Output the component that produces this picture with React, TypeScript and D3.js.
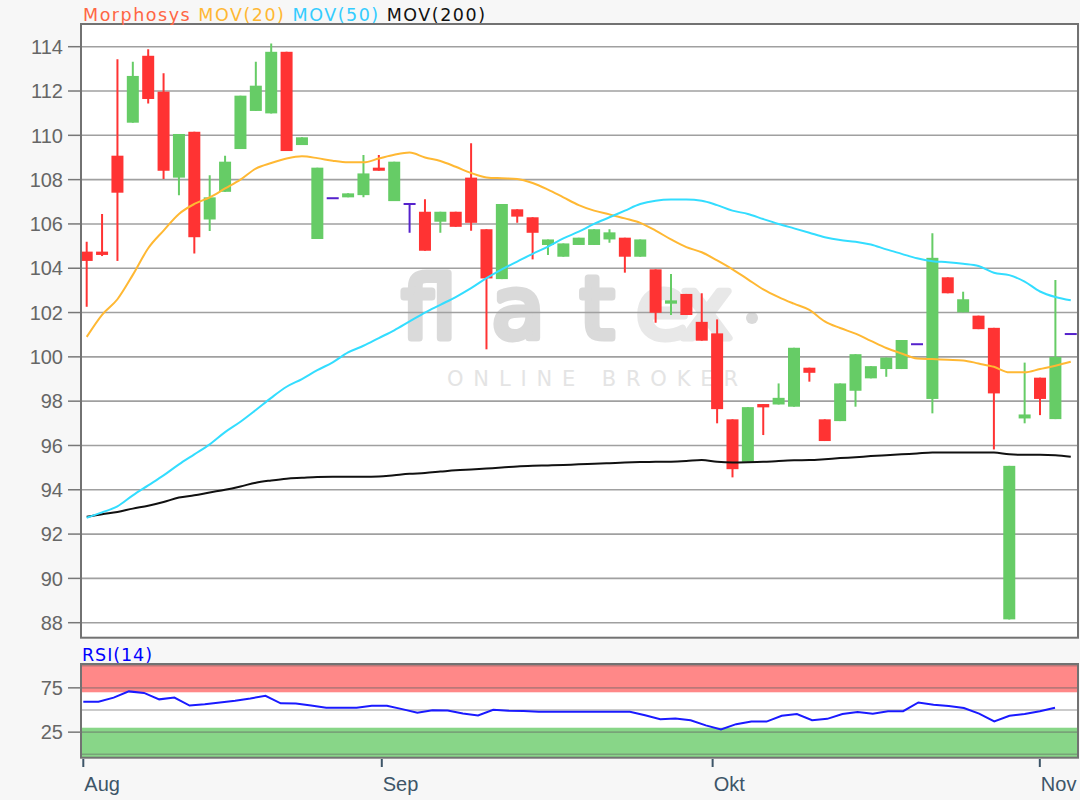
import React, { useEffect, useRef } from 'react';
import * as d3 from 'd3';

// daily candles, Aug - early Nov
const opens = [
  104.75, 104.75, 109.08, 110.57, 113.59, 111.97, 108.09, 110.16, 106.2, 107.45,
  109.38, 111.1, 110.99, 113.77, 109.56, 105.32, 107.16, 107.2, 107.3, 108.54,
  107.03, 106.9, 106.55, 106.1, 106.55, 108.09, 105.76, 103.51, 106.66, 106.3,
  105.05, 104.52, 105.05, 105.05, 105.3, 105.38, 104.52, 103.95, 102.4, 102.84,
  101.58, 101.06, 97.18, 95.26, 97.87, 97.85, 97.75, 99.51, 97.18, 97.1,
  98.47, 99.03, 99.45, 99.45, 100.57, 98.1, 103.59, 102.01, 101.86, 101.31,
  88.15, 97.22, 99.06, 97.19, 101.03
];
const highs = [
  105.2, 106.45, 113.43, 113.32, 113.88, 112.8, 110.06, 110.16, 108.2, 109.08,
  111.79, 113.32, 114.15, 113.77, 109.91, 108.54, 107.16, 107.38, 109.11, 109.11,
  108.81, 106.9, 107.11, 106.55, 106.55, 109.64, 105.76, 106.9, 106.66, 106.3,
  105.3, 105.12, 105.38, 105.76, 105.76, 105.38, 105.3, 103.95, 103.74, 102.84,
  102.87, 101.69, 97.18, 97.73, 97.87, 98.8, 100.41, 99.51, 97.18, 98.8,
  100.12, 99.58, 99.97, 100.76, 100.57, 105.58, 103.59, 102.94, 101.86, 101.31,
  95.08, 99.74, 99.06, 103.47, 101.03
];
const lows = [
  102.26, 104.55, 104.33, 110.57, 111.44, 108.03, 107.3, 104.67, 105.68, 107.45,
  109.38, 111.1, 110.99, 109.29, 109.56, 105.32, 107.16, 107.2, 107.2, 108.4,
  107.03, 105.6, 104.79, 105.6, 105.87, 105.69, 100.34, 103.51, 106.05, 104.4,
  104.6, 104.52, 105.05, 105.05, 105.15, 103.8, 104.52, 101.54, 101.89, 101.89,
  100.73, 97.0, 94.56, 95.26, 96.47, 97.85, 97.75, 98.88, 96.2, 97.1,
  97.75, 99.03, 99.1, 99.45, 100.57, 97.45, 102.87, 102.01, 101.25, 95.82,
  88.15, 97.0, 97.37, 97.19, 101.03
];
const closes = [
  104.33, 104.6, 107.41, 112.68, 111.64, 108.4, 110.06, 105.4, 107.2, 108.81,
  111.79, 112.24, 113.77, 109.29, 109.91, 108.54, 107.16, 107.38, 108.28, 108.4,
  108.81, 106.9, 104.79, 106.55, 105.87, 106.05, 103.54, 106.9, 106.33, 105.6,
  105.3, 105.12, 105.38, 105.76, 105.62, 104.52, 105.3, 101.99, 102.55, 101.89,
  100.73, 97.64, 94.93, 97.73, 97.72, 98.15, 100.41, 99.28, 96.2, 98.8,
  100.12, 99.58, 99.97, 100.76, 100.57, 104.47, 102.87, 102.6, 101.25, 98.35,
  95.08, 97.4, 98.1, 100.0, 101.03
];

const mov20 = [
  100.9, 101.9, 102.6, 103.7, 104.9, 105.7, 106.45, 106.9, 107.2, 107.6,
  108.0, 108.5, 108.75, 108.95, 109.05, 108.97, 108.85, 108.78, 108.78, 108.95,
  109.12, 109.22, 109.0, 108.84, 108.58, 108.3, 108.1, 108.06, 108.03, 107.85,
  107.55, 107.2, 106.85, 106.6, 106.43, 106.25, 106.05, 105.7, 105.3, 104.95,
  104.72, 104.35, 103.95, 103.5, 103.05, 102.7, 102.4, 102.12, 101.6, 101.3,
  101.05, 100.72, 100.4, 100.15, 99.93, 99.9, 99.87, 99.84, 99.7, 99.55,
  99.3, 99.3, 99.45, 99.6, 99.78
];
const mov50 = [
  92.74, 92.98, 93.25, 93.75, 94.2, 94.65, 95.15, 95.6, 96.05, 96.6,
  97.07, 97.6, 98.15, 98.65, 99.0, 99.4, 99.75, 100.2, 100.5, 100.85,
  101.2, 101.6, 102.0, 102.35, 102.7, 103.1, 103.55, 103.95, 104.3, 104.65,
  104.98, 105.35, 105.65, 106.0, 106.3, 106.6, 106.9, 107.05, 107.1, 107.1,
  107.05, 106.85, 106.6, 106.45, 106.22, 106.0, 105.8, 105.6, 105.4, 105.27,
  105.2, 105.07, 104.85, 104.65, 104.45, 104.32, 104.27, 104.2, 104.1, 103.8,
  103.69, 103.4, 102.95, 102.7, 102.55
];
const mov200 = [
  92.78, 92.9, 93.0, 93.15, 93.28, 93.45, 93.65, 93.75, 93.88, 94.0,
  94.15, 94.32, 94.42, 94.5, 94.54, 94.58, 94.59, 94.59, 94.59, 94.6,
  94.66, 94.72, 94.76, 94.82, 94.88, 94.92, 94.96, 95.0, 95.05, 95.08,
  95.1, 95.12, 95.15, 95.17, 95.2, 95.23, 95.25, 95.26, 95.27, 95.3,
  95.34, 95.26, 95.23, 95.24, 95.26, 95.3, 95.33, 95.34, 95.38, 95.43,
  95.47, 95.52, 95.56, 95.6, 95.64, 95.68, 95.68, 95.68, 95.68, 95.68,
  95.6, 95.58, 95.58, 95.56, 95.49
];
const rsi14 = [
  59.4, 59.4, 64, 71, 69.3, 62, 64, 55, 56.5, 58.5,
  60.5, 63, 66, 57.5, 57.2, 55, 52.6, 52.6, 52.6, 54.9,
  54.7, 51, 46.9, 49.6, 49.4, 46, 43.8, 50.3, 49.2, 48.8,
  48.1, 48, 48, 48, 48, 48, 48.1, 44, 39.5, 40.5,
  38.5, 32.6, 28, 34, 36.9, 36.9, 43.5, 45.5, 38.5, 40,
  45.4, 47.8, 45.8, 48.6, 48.6, 58.5, 56, 54.5, 52.2, 46,
  37.2, 43.5, 45.5, 48.5, 52.6
];

const priceTicks = [88, 90, 92, 94, 96, 98, 100, 102, 104, 106, 108, 110, 112, 114];
const rsiTicks = [25, 75];
const rsiGrid = [0, 25, 50, 75, 100];
const rsiBands = [70, 30];
const monthLabels = ['Aug', 'Sep', 'Okt', 'Nov'];
const monthTickPos = [0, 19.66, 41.45, 63.0];

const FONT = '"Liberation Sans", Arial, sans-serif';
const WIDE = '"DejaVu Sans", Verdana, sans-serif';

export default function App() {
  const ref = useRef<SVGSVGElement>(null);

  useEffect(() => {
    const svg = d3.select(ref.current);
    svg.selectAll('*').remove();

    svg.append('rect').attr('width', 1080).attr('height', 800).attr('fill', '#f7f7f7');

    // ---- main price panel
    const L = 81, R = 1078, T = 24, B = 637.7;
    const x = d3.scaleLinear().domain([-0.37, 64.47]).range([L, R]);
    const y = d3.scaleLinear().domain([88, 114]).range([622.7, 46.7]);

    svg.append('rect').attr('x', L).attr('y', T).attr('width', R - L).attr('height', B - T).attr('fill', '#fff');

    // watermark
    const wm = svg.append('g').attr('font-family', WIDE);
    const flat = wm.append('text')
      .attr('x', 402).attr('y', 338)
      .attr('font-size', 86)
      .attr('fill', '#dadada').attr('stroke', '#dadada')
      .attr('stroke-width', 7).attr('stroke-linejoin', 'round')
      .attr('textLength', 212).attr('lengthAdjust', 'spacing')
      .text('flat');
    flat.lower;
    wm.append('text')
      .attr('x', 636).attr('y', 338)
      .attr('font-size', 86)
      .attr('fill', '#e8e8e8').attr('stroke', '#e8e8e8')
      .attr('stroke-width', 7).attr('stroke-linejoin', 'round')
      .attr('textLength', 96).attr('lengthAdjust', 'spacing')
      .text('ex');
    wm.append('circle').attr('cx', 752).attr('cy', 318).attr('r', 6).attr('fill', '#dadada');
    wm.append('text')
      .attr('x', 447).attr('y', 386)
      .attr('font-size', 21)
      .attr('fill', '#e4e4e4')
      .attr('textLength', 291)
      .attr('lengthAdjust', 'spacing')
      .text('ONLINE BROKER');

    // grid + y axis
    svg.append('g').selectAll('line').data(priceTicks).enter().append('line')
      .attr('x1', L).attr('x2', R)
      .attr('y1', d => y(d)).attr('y2', d => y(d))
      .attr('stroke', '#a0a0a0').attr('stroke-width', 1.6);
    svg.append('g').selectAll('line').data(priceTicks).enter().append('line')
      .attr('x1', 68).attr('x2', L)
      .attr('y1', d => y(d)).attr('y2', d => y(d))
      .attr('stroke', '#777').attr('stroke-width', 1.5);
    svg.append('g').selectAll('text').data(priceTicks).enter().append('text')
      .attr('x', 63).attr('y', d => y(d)).attr('dy', '0.36em')
      .attr('text-anchor', 'end')
      .attr('font-family', FONT).attr('font-size', 20).attr('fill', '#666')
      .text(d => d);

    const clip = svg.append('clipPath').attr('id', 'mainclip');
    clip.append('rect').attr('x', L).attr('y', T).attr('width', R - L).attr('height', B - T);
    const plot = svg.append('g').attr('clip-path', 'url(#mainclip)');

    // candles
    const idx = d3.range(closes.length);
    const colorOf = (i: number) =>
      closes[i] > opens[i] ? '#66cc66' : closes[i] < opens[i] ? '#ff3333' : '#5522cc';
    const bw = 12;

    plot.append('g').selectAll('line').data(idx).enter().append('line')
      .attr('x1', i => x(i)).attr('x2', i => x(i))
      .attr('y1', i => y(highs[i])).attr('y2', i => y(lows[i]))
      .attr('stroke', i => colorOf(i)).attr('stroke-width', 2);

    plot.append('g').selectAll('rect').data(idx).enter().append('rect')
      .attr('x', i => x(i) - bw / 2)
      .attr('width', bw)
      .attr('y', i => Math.min(y(opens[i]), y(closes[i])) - (opens[i] === closes[i] ? 1 : 0))
      .attr('height', i => Math.max(Math.abs(y(opens[i]) - y(closes[i])), 2))
      .attr('fill', i => colorOf(i));

    // moving averages
    const line = d3.line<number>().x((d, i) => x(i)).y(d => y(d)).curve(d3.curveMonotoneX);
    const mas: [number[], string][] = [[mov200, '#111'], [mov20, '#ffb833'], [mov50, '#33ddff']];
    mas.forEach(([data, color]) => {
      plot.append('path').datum(data)
        .attr('d', line)
        .attr('fill', 'none')
        .attr('stroke', color)
        .attr('stroke-width', 2);
    });

    svg.append('rect').attr('x', L).attr('y', T).attr('width', R - L).attr('height', B - T)
      .attr('fill', 'none').attr('stroke', '#727272').attr('stroke-width', 2);

    // legend
    const leg = svg.append('text').attr('x', 83).attr('y', 20.5)
      .attr('font-family', WIDE).attr('font-size', 17.5)
      .attr('textLength', 402).attr('lengthAdjust', 'spacing');
    leg.append('tspan').attr('fill', '#ff6644').text('Morphosys ');
    leg.append('tspan').attr('fill', '#ffb833').text('MOV(20) ');
    leg.append('tspan').attr('fill', '#33ccff').text('MOV(50) ');
    leg.append('tspan').attr('fill', '#111').text('MOV(200)');

    // ---- RSI panel
    const rT = 664, rB = 757.7;
    const xr = d3.scaleLinear().domain([0, 64]).range([83.3, 1055]);
    const yr = d3.scaleLinear().domain([0, 100]).range([754.3, 665.7]);

    svg.append('rect').attr('x', L).attr('y', rT).attr('width', R - L).attr('height', rB - rT).attr('fill', '#fff');
    svg.append('rect').attr('x', L).attr('y', rT).attr('width', R - L).attr('height', yr(rsiBands[0]) - rT)
      .attr('fill', '#ff8888');
    svg.append('rect').attr('x', L).attr('y', yr(rsiBands[1])).attr('width', R - L).attr('height', rB - yr(rsiBands[1]))
      .attr('fill', '#88d688');
    svg.append('g').selectAll('line').data(rsiGrid).enter().append('line')
      .attr('x1', L).attr('x2', R)
      .attr('y1', d => yr(d)).attr('y2', d => yr(d))
      .attr('stroke', '#666').attr('stroke-opacity', 0.45).attr('stroke-width', 1.6);

    svg.append('path').datum(rsi14)
      .attr('d', d3.line<number>().x((d, i) => xr(i)).y(d => yr(d)))
      .attr('fill', 'none').attr('stroke', '#1a1aff').attr('stroke-width', 2);

    svg.append('rect').attr('x', L).attr('y', rT).attr('width', R - L).attr('height', rB - rT)
      .attr('fill', 'none').attr('stroke', '#727272').attr('stroke-width', 2);

    svg.append('g').selectAll('line').data(rsiTicks).enter().append('line')
      .attr('x1', 68).attr('x2', L)
      .attr('y1', d => yr(d)).attr('y2', d => yr(d))
      .attr('stroke', '#777').attr('stroke-width', 1.5);
    svg.append('g').selectAll('text').data(rsiTicks).enter().append('text')
      .attr('x', 63).attr('y', d => yr(d)).attr('dy', '0.36em')
      .attr('text-anchor', 'end')
      .attr('font-family', FONT).attr('font-size', 20).attr('fill', '#666')
      .text(d => d);

    svg.append('text').attr('x', 82).attr('y', 661)
      .attr('font-family', WIDE).attr('font-size', 17.5).attr('fill', '#0000ff')
      .attr('textLength', 70).attr('lengthAdjust', 'spacing')
      .text('RSI(14)');

    // month axis
    svg.append('g').selectAll('line').data(monthTickPos).enter().append('line')
      .attr('x1', d => xr(d)).attr('x2', d => xr(d))
      .attr('y1', 759).attr('y2', 767)
      .attr('stroke', '#3d5568').attr('stroke-width', 2);
    svg.append('g').selectAll('text').data(monthLabels).enter().append('text')
      .attr('x', (d, i) => xr(monthTickPos[i]) + 1)
      .attr('y', 791)
      .attr('font-family', FONT).attr('font-size', 20).attr('fill', '#3d5568')
      .text(d => d);
  }, []);

  return (
    <div style={{ position: 'absolute', left: 0, top: 0 }}>
      <svg ref={ref} width={1080} height={800} />
    </div>
  );
}
